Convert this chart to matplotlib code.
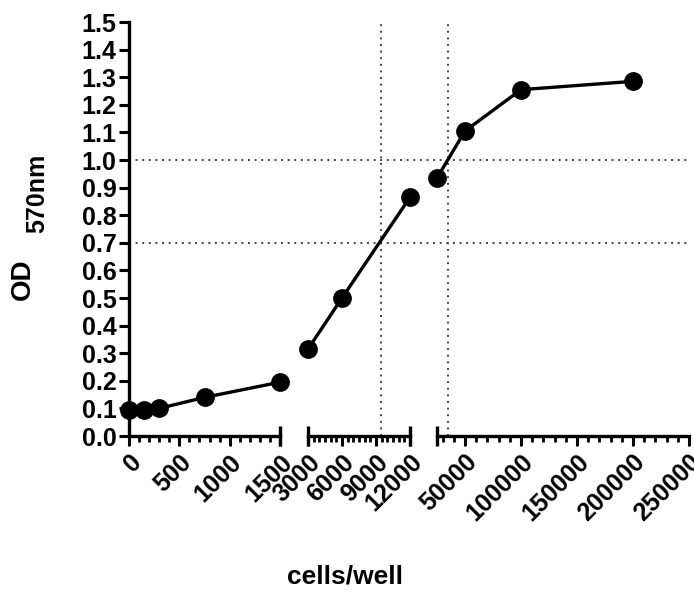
import numpy as np
import matplotlib
matplotlib.use("Agg")
import matplotlib.pyplot as plt
from matplotlib.ticker import MultipleLocator, FixedLocator

## Data ##
seg1_cells = [0, 150, 300, 750, 1500]
seg1_od = [0.095, 0.095, 0.10, 0.14, 0.195]
seg2_cells = [3000, 6000, 12000]
seg2_od = [0.315, 0.50, 0.865]
seg3_cells = [25000, 50000, 100000, 200000]
seg3_od = [0.935, 1.105, 1.255, 1.285]

seg1_ticks = [0, 500, 1000, 1500]
seg2_ticks = [3000, 6000, 9000, 12000]
seg3_ticks = [50000, 100000, 150000, 200000, 250000]

seg_limits = [(0, 1500), (3000, 12000), (25000, 250000)]
ref_od = [0.7, 1.0]          # horizontal dotted lines
ref_cells = [9450, 35000]    # vertical dotted lines (seg 2, seg 3)

plt.rcParams["font.family"] = ["Liberation Sans", "DejaVu Sans"]
plt.rcParams["font.weight"] = "bold"

fig = plt.figure(figsize=(6.94, 5.92), dpi=100)

bottom, height = 0.2635, 0.6993
lefts = [0.1859, 0.4438, 0.6297]
widths = [0.2176, 0.1470, 0.3631]

# overlay for the dotted reference lines that run across the breaks
ov = fig.add_axes([lefts[0], bottom, lefts[2] + widths[2] - lefts[0], height], zorder=0)
ov.set_ylim(0, 1.5)
ov.axis("off")
for v in ref_od:
    ov.axhline(v, color="#444444", lw=1.4, ls=(0, (1, 2.4)))

dot_kw = dict(color="#444444", lw=1.4, ls=(0, (1, 2.4)))
line_kw = dict(color="black", lw=2.4, marker="o", markersize=12.5, clip_on=False, zorder=5)
tick_lbl = 18

axes = []
datasets = [(seg1_cells, seg1_od, seg1_ticks, 100),
            (seg2_cells, seg2_od, seg2_ticks, 500),
            (seg3_cells, seg3_od, seg3_ticks, 10000)]
for i, (xs, ys, ticks, minor) in enumerate(datasets):
    ax = fig.add_axes([lefts[i], bottom, widths[i], height], zorder=2)
    ax.patch.set_alpha(0)
    ax.plot(xs, ys, **line_kw)
    ax.set_xlim(*seg_limits[i])
    ax.set_ylim(0, 1.5)
    ax.spines["top"].set_visible(False)
    ax.spines["right"].set_visible(False)
    ax.spines["bottom"].set_linewidth(2.4)
    ax.xaxis.set_major_locator(FixedLocator(ticks))
    ax.xaxis.set_minor_locator(MultipleLocator(minor))
    ax.tick_params(axis="x", which="major", length=7, width=2.2, pad=3)
    ax.tick_params(axis="x", which="minor", length=4, width=2.0)
    ax.set_xticklabels([str(t) for t in ticks], rotation=45, ha="right", va="top",
                       rotation_mode="anchor", fontsize=tick_lbl, fontweight="bold")
    if i == 0:
        ax.spines["left"].set_linewidth(2.4)
        ax.set_yticks(np.arange(0, 16) / 10)
        ax.set_yticklabels([f"{v / 10:.1f}" for v in range(16)], fontsize=tick_lbl,
                           fontweight="bold")
        ax.tick_params(axis="y", length=7, width=2.2, pad=2)
    else:
        ax.spines["left"].set_visible(False)
        ax.tick_params(axis="y", left=False, labelleft=False)
        ax.axvline(ref_cells[i - 1], **dot_kw, zorder=1)
    axes.append(ax)

# break caps at the inner ends of each segment
caps = [(axes[0], seg_limits[0][1]), (axes[1], seg_limits[1][0]),
        (axes[1], seg_limits[1][1]), (axes[2], seg_limits[2][0])]
for ax, xc in caps:
    ax.plot([xc], [0], marker="|", markersize=15, mew=2.4, color="black", clip_on=False, zorder=6)

fig.text(345 / 694, 1 - 576 / 592, "cells/well", ha="center", va="center",
         fontsize=19, fontweight="bold")
fig.text(23 / 694, 1 - 279 / 592, "OD", rotation=90, ha="center", va="center",
         fontsize=20, fontweight="bold")
fig.text(37 / 694, 1 - 193 / 592, "570nm", rotation=90, ha="center", va="center",
         fontsize=18, fontweight="bold")

fig.savefig("out.png", dpi=100)
